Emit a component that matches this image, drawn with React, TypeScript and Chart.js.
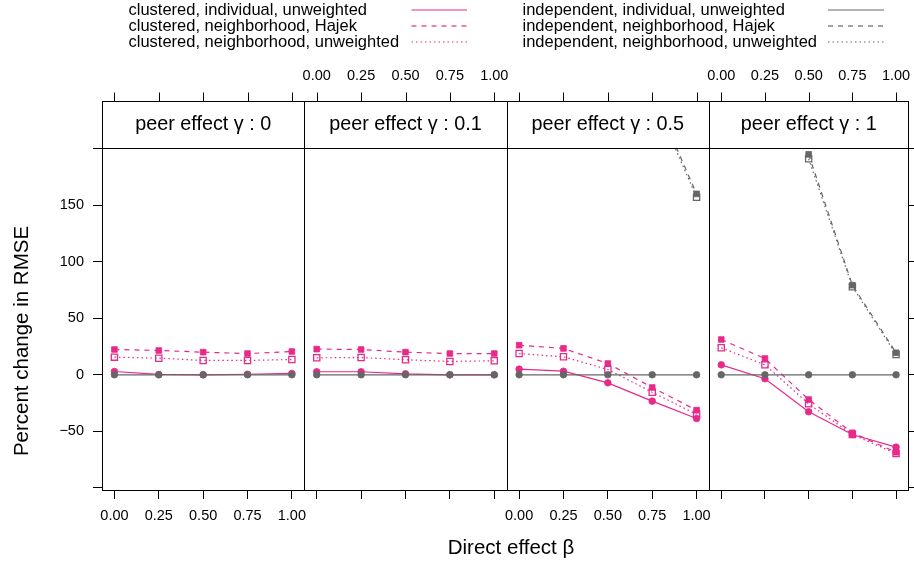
import React, { useEffect, useRef } from 'react';
import { Chart, registerables } from 'chart.js';

Chart.register(...registerables);

// ---------------- data ----------------
const BETA = [0, 0.25, 0.5, 0.75, 1];
const GAMMA_LABELS = ['0', '0.1', '0.5', '1'];
const X_TICKS = [0, 0.25, 0.5, 0.75, 1];
const Y_TICKS = [-100, -50, 0, 50, 100, 150, 200];
const Y_LABELLED = [-50, 0, 50, 100, 150];

// clustered design (one row per panel gamma = 0, 0.1, 0.5, 1)
const CL_IND = [
  [2.9, 0.3, 0, 0.5, 1.2],
  [2.7, 2.7, 0.9, 0, 0],
  [5, 3.2, -7.1, -23.3, -38.7],
  [8.8, -3.5, -32.7, -52.8, -64],
];
const CL_HAJ = [
  [22.4, 21.5, 20, 18.8, 20.6],
  [22.7, 22.4, 20, 18.8, 18.8],
  [26.2, 23.3, 10, -11.2, -31.3],
  [31.2, 14.4, -21.9, -51.3, -68.5],
];
const CL_UNW = [
  [15.6, 14.7, 12.7, 12.7, 13.5],
  [15, 15.3, 13.3, 11.8, 12.4],
  [18.8, 15.9, 4.7, -15.4, -35],
  [23.9, 8.8, -25.7, -52.8, -69.7],
];
// independent design
const IN_IND = [
  [0, 0, 0, 0, 0],
  [0, 0, 0, 0, 0],
  [0, 0, 0, 0, 0],
  [0, 0, 0, 0, 0],
];
const IN_HAJ = [
  [null, null, null, null, null],
  [null, null, null, null, null],
  [null, null, null, 250, 160],
  [null, null, 195, 79.3, 19.5],
];
const IN_UNW = [
  [null, null, null, null, null],
  [null, null, null, null, null],
  [null, null, null, 247, 157],
  [null, null, 191, 77.9, 18],
];

const LEGEND_LEFT = [
  'clustered, individual, unweighted',
  'clustered, neighborhood, Hajek',
  'clustered, neighborhood, unweighted',
];
const LEGEND_RIGHT = [
  'independent, individual, unweighted',
  'independent, neighborhood, Hajek',
  'independent, neighborhood, unweighted',
];

// ---------------- styles / layout ----------------
const W = 914;
const H = 563;
const FONT = '"Liberation Sans", Arial, Helvetica, sans-serif';
const PINK = '#E7298A';
const GRAY = '#666666';
const PANEL_X = [102, 304.3, 506.7, 709, 911];
const PLOT_TOP = 148;
const PLOT_BOTTOM = 490;
const STRIP_TOP = 100.5;
const X_MIN = -0.07;
const X_MAX = 1.07;
const Y_MIN = -101.9;
const Y_MAX = 200.6;
const TICK_FONT = 14.5;
const STRIP_FONT = 19.8;
const TITLE_FONT = 20.5;
const LEGEND_FONT = 16.5;
const TICK_LEN = 9;
const BOTTOM_LABEL_Y = 515.5;
const TOP_LABEL_Y = 76;
const LEFT_LABEL_X = 84;

const DASH = [5, 5];
const DOT = [1.5, 3];

type Style = { color: string; dash: number[]; shape: 'circle' | 'rect'; filled: boolean };
const STYLE_IND_IN: Style = { color: GRAY, dash: [], shape: 'circle', filled: true };
const STYLE_HAJ_IN: Style = { color: GRAY, dash: DASH, shape: 'rect', filled: true };
const STYLE_UNW_IN: Style = { color: GRAY, dash: DOT, shape: 'rect', filled: false };
const STYLE_IND_CL: Style = { color: PINK, dash: [], shape: 'circle', filled: true };
const STYLE_HAJ_CL: Style = { color: PINK, dash: DASH, shape: 'rect', filled: true };
const STYLE_UNW_CL: Style = { color: PINK, dash: DOT, shape: 'rect', filled: false };

function makeDataset(values: (number | null)[], st: Style) {
  return {
    data: BETA.map((b, i) => ({ x: b, y: values[i] })),
    borderColor: st.color,
    backgroundColor: st.color,
    borderWidth: 1.2,
    borderDash: st.dash,
    pointStyle: st.shape,
    pointRadius: st.shape === 'circle' ? 3.3 : st.filled ? 4 : 4.4,
    pointBorderWidth: st.filled ? 0.8 : 1.3,
    pointBackgroundColor: st.filled ? st.color : 'rgba(0,0,0,0)',
    pointBorderColor: st.color,
    tension: 0,
    spanGaps: false,
  };
}

function fmtY(v: number) {
  return v < 0 ? '\u2212' + Math.abs(v) : String(v);
}

function drawLegendAndTitles(ctx: CanvasRenderingContext2D) {
  ctx.save();
  ctx.fillStyle = '#000';
  ctx.font = `${LEGEND_FONT}px ${FONT}`;
  ctx.textBaseline = 'middle';
  ctx.textAlign = 'left';
  const rows = [10, 26, 42];
  const styles = [
    [STYLE_IND_CL, STYLE_HAJ_CL, STYLE_UNW_CL],
    [STYLE_IND_IN, STYLE_HAJ_IN, STYLE_UNW_IN],
  ];
  const texts = [LEGEND_LEFT, LEGEND_RIGHT];
  const textX = [128.5, 522.5];
  const lineX = [[411.5, 467], [828, 884]];
  for (let c = 0; c < 2; c++) {
    for (let r = 0; r < 3; r++) {
      ctx.fillStyle = '#000';
      ctx.fillText(texts[c][r], textX[c], rows[r]);
      const st = styles[c][r];
      ctx.strokeStyle = st.color;
      ctx.lineWidth = 1.2;
      ctx.setLineDash(st.dash);
      ctx.beginPath();
      ctx.moveTo(lineX[c][0], rows[r]);
      ctx.lineTo(lineX[c][1], rows[r]);
      ctx.stroke();
      ctx.setLineDash([]);
    }
  }
  ctx.font = `${TITLE_FONT}px ${FONT}`;
  ctx.textAlign = 'center';
  ctx.fillText('Direct effect \u03b2', 511, 548);
  ctx.translate(22, 341);
  ctx.rotate(-Math.PI / 2);
  ctx.fillText('Percent change in RMSE', 0, 0);
  ctx.restore();
}

function Panel({ index }: { index: number }) {
  const ref = useRef<HTMLCanvasElement | null>(null);
  useEffect(() => {
    if (!ref.current) return;
    const left = PANEL_X[index];
    const right = PANEL_X[index + 1];
    const showBottomLabels = index === 0 || index === 2;
    const showTopLabels = index === 1 || index === 3;
    const hasLeftAxis = index === 0;

    const panelPlugin = {
      id: 'panelDeco' + index,
      afterDraw(chart: any) {
        const ctx: CanvasRenderingContext2D = chart.ctx;
        const a = chart.chartArea;
        const xs = chart.scales.x;
        const ys = chart.scales.y;
        ctx.save();
        ctx.strokeStyle = '#000';
        ctx.lineWidth = 1;
        ctx.setLineDash([]);
        const l = Math.round(a.left) + 0.5;
        const r = Math.round(a.right) + 0.5;
        const t = Math.round(a.top) + 0.5;
        const b = Math.round(a.bottom) + 0.5;
        // panel border
        ctx.strokeRect(l, t, r - l, b - t);
        // strip
        const st = Math.round(STRIP_TOP) + 0.5;
        ctx.strokeRect(l, st, r - l, t - st);
        ctx.fillStyle = '#000';
        ctx.font = `${STRIP_FONT}px ${FONT}`;
        ctx.textAlign = 'center';
        ctx.textBaseline = 'middle';
        ctx.fillText('peer effect \u03b3 : ' + GAMMA_LABELS[index], (a.left + a.right) / 2, 124.5);
        // top ticks + x labels
        ctx.font = `${TICK_FONT}px ${FONT}`;
        for (const v of X_TICKS) {
          const px = Math.round(xs.getPixelForValue(v)) + 0.5;
          ctx.beginPath();
          ctx.moveTo(px, st);
          ctx.lineTo(px, st - TICK_LEN);
          ctx.stroke();
          if (showTopLabels) ctx.fillText(v.toFixed(2), xs.getPixelForValue(v), TOP_LABEL_Y);
          if (showBottomLabels) ctx.fillText(v.toFixed(2), xs.getPixelForValue(v), BOTTOM_LABEL_Y);
        }
        // y labels
        if (hasLeftAxis) {
          ctx.textAlign = 'right';
          for (const v of Y_LABELLED) {
            ctx.fillText(fmtY(v), LEFT_LABEL_X, ys.getPixelForValue(v));
          }
        }
        ctx.restore();
        if (index === 0) drawLegendAndTitles(ctx);
      },
    };

    const tickGrid = { display: true, drawOnChartArea: false, drawTicks: true, tickLength: TICK_LEN, color: '#000', lineWidth: 1 };
    const scales: any = {
      x: {
        type: 'linear',
        position: 'bottom',
        min: X_MIN,
        max: X_MAX,
        afterBuildTicks: (s: any) => { s.ticks = X_TICKS.map((v) => ({ value: v })); },
        afterFit: (s: any) => { s.height = 0; },
        grid: tickGrid,
        border: { display: false },
        ticks: { display: false },
      },
      y: {
        type: 'linear',
        position: 'left',
        display: hasLeftAxis,
        min: Y_MIN,
        max: Y_MAX,
        afterBuildTicks: (s: any) => { s.ticks = Y_TICKS.map((v) => ({ value: v })); },
        afterFit: (s: any) => { s.width = 0; },
        grid: tickGrid,
        border: { display: false },
        ticks: { display: false },
      },
    };
    if (index === 3) {
      scales.yr = {
        type: 'linear',
        position: 'right',
        min: Y_MIN,
        max: Y_MAX,
        afterBuildTicks: (s: any) => { s.ticks = Y_TICKS.map((v) => ({ value: v })); },
        afterFit: (s: any) => { s.width = 0; },
        grid: tickGrid,
        border: { display: false },
        ticks: { display: false },
      };
    }

    const chart = new Chart(ref.current, {
      type: 'line',
      data: {
        datasets: [
          makeDataset(IN_IND[index], STYLE_IND_IN),
          makeDataset(IN_HAJ[index], STYLE_HAJ_IN),
          makeDataset(IN_UNW[index], STYLE_UNW_IN),
          makeDataset(CL_IND[index], STYLE_IND_CL),
          makeDataset(CL_HAJ[index], STYLE_HAJ_CL),
          makeDataset(CL_UNW[index], STYLE_UNW_CL),
        ] as any,
      },
      options: {
        animation: false,
        responsive: false,
        devicePixelRatio: 1,
        events: [],
        layout: {
          padding: { left: left, right: W - right, top: PLOT_TOP, bottom: H - PLOT_BOTTOM },
        },
        plugins: { legend: { display: false }, tooltip: { enabled: false }, title: { display: false } },
        scales,
      } as any,
      plugins: [panelPlugin],
    });
    return () => chart.destroy();
  }, [index]);
  return (
    <canvas
      ref={ref}
      width={W}
      height={H}
      style={{ position: 'absolute', left: 0, top: 0, width: W, height: H }}
    />
  );
}

export default function App() {
  return (
    <div style={{ position: 'fixed', left: 0, top: 0, width: W, height: H, background: '#fff', overflow: 'hidden' }}>
      {[0, 1, 2, 3].map((i) => (
        <Panel key={i} index={i} />
      ))}
    </div>
  );
}
